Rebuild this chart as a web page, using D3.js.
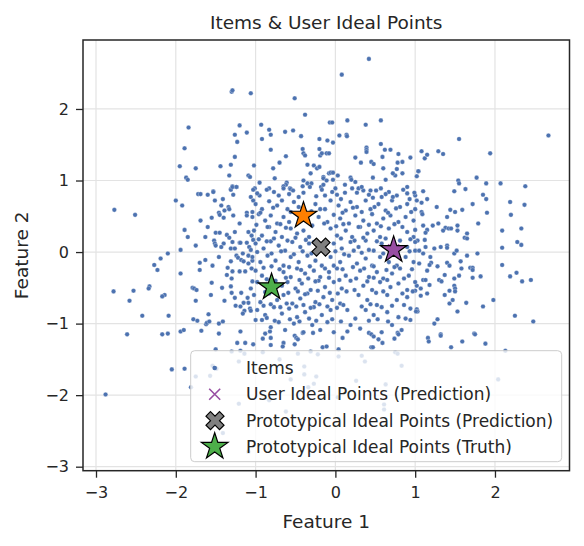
<!DOCTYPE html>
<html><head><meta charset="utf-8">
<script src="https://cdn.jsdelivr.net/npm/d3@7/dist/d3.min.js"></script>
<style>body{margin:0;background:#fff}svg{display:block}text{font-family:"DejaVu Sans",sans-serif;fill:#262626}</style>
</head><body><div id="chart"></div>
<script>
const title = "Items & User Ideal Points";
const xLabel = "Feature 1";
const yLabel = "Feature 2";
const xTicks = [-3, -2, -1, 0, 1, 2];
const yTicks = [-3, -2, -1, 0, 1, 2];
const legendLabels = ["Items", "User Ideal Points (Prediction)", "Prototypical Ideal Points (Prediction)", "Prototypical Ideal Points (Truth)"];
// items: [feature1, feature2]
const itemsTop = [
[-1.30,2.24],[-1.29,2.26],[-1.06,2.22],[-1.84,1.74],[-1.20,1.77],[-1.26,1.64],[-1.11,1.67],[-1.23,1.54],[-1.89,1.45],[-1.26,1.33],
[-1.95,1.20],[-1.75,1.17],[-1.44,1.20],[-1.31,1.22],[-1.02,1.21],[-1.33,1.07],[-1.09,1.07],[-1.07,1.05],[-1.87,1.04],[-1.85,1.01],
[-1.29,0.92],[-1.24,0.91],[-1.31,0.88],[-1.53,0.85],
[0.42,2.70],[0.08,2.48],[-0.51,2.15],[-0.38,1.92],[-0.93,1.78],[-0.83,1.71],[-0.81,1.64],[-0.92,1.58],[-0.63,1.68],[-0.53,1.70],
[-0.43,1.62],[-0.07,1.81],[-0.04,1.81],[0.15,1.84],[0.38,1.78],[0.57,1.84],[-0.20,1.58],[-0.10,1.56],[-0.03,1.53],[0.05,1.63],
[0.14,1.64],[0.145,1.62],[-0.81,1.43],[-0.62,1.34],[-0.41,1.44],[-0.40,1.38],[-0.38,1.35],[-0.20,1.44],[-0.19,1.35],[-0.17,1.38],
[-0.11,1.38],[-0.08,1.38],[0.57,1.51],[0.39,1.46],[0.39,1.43],[0.39,1.40],[0.62,1.43],[0.69,1.43],[0.79,1.37],[0.94,1.32],
[0.25,1.32],[0.32,1.25],[0.45,1.26],[0.48,1.23],[0.59,1.33],[0.60,1.17],[0.78,1.25],[0.84,1.26],[0.77,1.16],[0.75,1.07],
[0.72,1.10],[0.84,1.10],[0.63,1.01],[0.47,1.04],[-0.70,1.25],[-0.78,1.17],[-0.35,1.22],[-0.27,1.21],[-0.23,1.17],[-0.31,1.10],
[-0.20,1.19],[-0.08,1.10],[-0.06,1.11],[-0.03,1.11],[0.03,1.07],[-0.15,1.05],[-0.15,1.03],[-0.11,1.00],[-0.03,1.01],[-0.40,1.00],
[-0.76,1.03],[-0.95,0.97],[-0.61,0.97],[-0.62,0.94],[-0.65,0.92],[-0.35,0.96],[-0.30,0.96],[0.19,1.04],[0.20,1.01],[0.25,0.98],
[0.12,0.94],[0.29,0.89],[0.57,0.89],[0.90,0.91],[1.02,1.06],[1.04,1.13],[-1.01,0.89],[-0.83,0.89],[-0.57,0.89],[-0.56,0.88],
[-0.41,0.92],[-0.18,0.91],[-0.15,0.94],[0.00,0.89],[0.44,0.86],[0.35,0.86],
[2.67,1.63],[1.55,1.58],[1.08,1.41],[1.12,1.31],[1.15,1.36],[1.29,1.41],[1.35,1.37],[1.94,1.38],[1.04,1.13],[1.54,1.00],
[1.55,0.96],[1.77,1.04],[1.89,0.96],[2.07,0.96],[2.38,0.92],[1.63,0.88],[1.49,0.85],[1.10,0.85]
];
const itemsRight = [
[1.85,0.80],[1.89,0.74],[1.72,0.67],[1.00,0.79],[1.02,0.72],[1.08,0.69],[1.15,0.74],[1.27,0.63],[1.44,0.59],[1.50,0.56],
[1.59,0.59],[1.90,0.55],[2.19,0.70],[2.37,0.66],[2.20,0.52],[1.08,0.56],[1.09,0.53],[1.40,0.49],[1.29,0.40],[1.22,0.37],
[1.10,0.37],[1.00,0.31],[1.15,0.31],[1.13,0.27],[1.38,0.34],[1.42,0.33],[1.45,0.33],[1.35,0.30],[1.53,0.37],[1.53,0.30],
[1.79,0.40],[1.65,0.26],[1.62,0.20],[1.65,0.19],[2.09,0.30],[2.33,0.33],[2.28,0.14],[2.33,0.10],[2.09,0.06],[1.03,0.16],
[1.12,0.17],[1.13,0.07],[1.24,0.05],[1.32,0.07],[1.40,0.09],[1.40,0.06],[1.00,0.02],[1.05,0.02],[1.10,-0.02],[1.19,-0.07],
[1.49,-0.02],[1.52,0.02],[1.65,-0.05],[1.78,-0.02],[1.57,-0.13],[1.40,-0.15],[1.43,-0.19],[1.05,-0.16],[1.20,-0.15],[1.18,-0.18],
[1.28,-0.20],[1.58,-0.23],[1.69,-0.22],[1.72,-0.22],[1.72,-0.25],[2.09,-0.18],[1.15,-0.26],[1.37,-0.32],[1.55,-0.33],[1.72,-0.36],
[1.82,-0.34],[1.49,-0.37],[2.19,-0.34],[2.27,-0.29],[2.34,-0.41],[2.45,-0.39],[1.10,-0.39],[1.13,-0.39],[1.30,-0.39],[1.33,-0.41],
[1.18,-0.46],[1.02,-0.47],[1.07,-0.51],[1.00,-0.54],[1.49,-0.47],[1.50,-0.51],[1.50,-0.55],[1.43,-0.54],[1.37,-0.60],[1.15,-0.58],
[1.07,-0.61],[1.47,-0.67],[1.43,-0.72],[1.64,-0.71],[1.98,-0.67],[1.85,-0.76],[1.53,-0.83],[1.02,-0.80],[1.03,-0.83],[1.01,-0.83],
[2.25,-0.89],[2.48,-0.97],[1.28,-0.94],[1.24,-1.00],[1.32,-1.15],[1.74,-1.14]
];
const itemsLeft = [
[-2.77,0.59],[-2.51,0.52],[-2.00,0.72],[-1.92,0.65],[-1.72,0.81],[-1.69,0.81],[-1.60,0.80],[-1.53,0.84],[-1.51,0.72],[-1.41,0.74],
[-1.31,0.87],[-1.29,0.91],[-1.24,0.91],[-1.28,0.80],[-1.06,0.77],[-1.03,0.72],[-1.43,0.65],[-1.34,0.63],[-1.33,0.60],[-1.39,0.58],
[-1.46,0.55],[-1.45,0.52],[-1.55,0.48],[-1.40,0.48],[-1.28,0.51],[-1.11,0.55],[-1.11,0.51],[-1.04,0.56],[-1.69,0.44],[-1.20,0.40],
[-1.60,0.35],[-1.89,0.31],[-1.50,0.27],[-1.45,0.27],[-1.26,0.28],[-1.09,0.28],[-1.05,0.23],[-1.85,0.21],[-1.63,0.21],[-1.36,0.24],
[-1.33,0.20],[-1.52,0.16],[-1.51,0.12],[-1.50,0.09],[-1.40,0.12],[-1.43,0.07],[-1.29,0.14],[-1.20,0.13],[-1.19,0.13],[-1.11,0.13],
[-1.03,0.17],[-1.75,0.09],[-1.94,0.03],[-1.31,0.05],[-1.26,0.05],[-1.08,0.07],[-1.06,0.03],[-2.10,-0.02],[-2.19,-0.09],[-2.27,-0.18],
[-2.23,-0.25],[-1.46,-0.07],[-1.24,-0.05],[-1.22,-0.08],[-1.16,-0.02],[-1.09,-0.05],[-1.18,-0.11],[-1.15,-0.13],[-1.09,-0.16],[-1.04,-0.12],
[-1.63,-0.11],[-1.70,-0.15],[-1.54,-0.19],[-1.31,-0.13],[-1.35,-0.22],[-1.70,-0.25],[-1.94,-0.30],[-1.29,-0.27],[-1.20,-0.27],[-1.13,-0.27],
[-1.05,-0.23],[-1.36,-0.32],[-1.30,-0.37],[-1.04,-0.41],[-1.55,-0.43],[-1.42,-0.50],[-1.31,-0.48],[-2.33,-0.48],[-2.34,-0.51],[-2.78,-0.55],
[-2.53,-0.54],[-1.79,-0.50],[-1.77,-0.51],[-1.74,-0.53],[-1.30,-0.57],[-1.18,-0.57],[-1.06,-0.51],[-1.56,-0.60],[-2.14,-0.60],[-2.17,-0.62],
[-2.58,-0.68],[-1.75,-0.68],[-1.39,-0.68],[-1.26,-0.64],[-1.10,-0.64],[-1.09,-0.71],[-1.15,-0.71],[-1.25,-0.75],[-1.19,-0.76],[-1.07,-0.79],
[-1.06,-0.82],[-1.14,-0.82],[-1.16,-0.86],[-2.42,-0.89],[-2.09,-0.89],[-1.59,-0.87],[-1.62,-1.01],[-1.61,-0.99],[-1.58,-0.97],[-1.78,-0.94],
[-1.73,-0.96],[-1.46,-1.00],[-1.41,-0.97],[-2.61,-1.15],[-2.17,-1.15],[-2.10,-1.14],[-1.94,-1.11],[-1.90,-1.09],[-1.68,-1.10],[-1.46,-1.14],
[-1.19,-1.11]
];
const itemsBottom = [
[-1.23,-1.27],[-1.13,-1.27],[-1.03,-1.29],[-1.50,-1.36],[-1.30,-1.39],[-1.19,-1.38],[-1.14,-1.42],[-2.05,-1.64],[-1.89,-1.63],[-1.49,-1.63],
[-1.54,-1.59],[-1.57,-1.73],[-1.75,-1.74],[-1.21,-1.53],[-1.81,-1.89],[-2.88,-1.99],[-1.21,-2.12],[-1.41,-2.53],[-1.09,-2.79],
[-0.88,-1.14],[-0.91,-1.21],[-0.82,-1.11],[-0.81,-1.20],[-0.81,-1.30],[-0.65,-1.27],[-0.66,-1.32],[-0.51,-1.17],[-0.49,-1.20],[-0.47,-1.22],
[-0.51,-1.29],[-0.41,-1.13],[-0.28,-1.13],[-0.16,-1.33],[-0.11,-1.32],[0.09,-1.20],[0.15,-1.11],[0.42,-1.13],[0.45,-1.15],[0.48,-1.18],
[0.54,-1.22],[0.59,-1.27],[0.45,-1.33],[0.47,-1.33],[0.74,-1.21],[0.78,-1.13],[0.79,-1.15],[0.04,-1.36],[1.16,-1.20],[1.17,-1.25],
[1.32,-1.17],[1.45,-1.33],[1.59,-1.25],[1.75,-1.15],[1.88,-1.28],[2.13,-1.38],
[-0.91,-1.40],[-0.70,-1.50],[-0.47,-1.42],[-0.31,-1.39],[-0.22,-1.43],[0.04,-1.46],[0.33,-1.45],[0.37,-1.53],[0.75,-1.40],[0.78,-1.42],
[0.83,-1.59],[-0.39,-1.60],[-0.39,-1.71],[-0.24,-1.74],[-0.56,-1.78],[-0.27,-1.84],[-0.34,-1.89],[0.26,-1.80],[0.63,-1.85],[2.04,-1.78],
[0.03,-2.03],[0.61,-2.13],[0.61,-2.20],[-0.62,-2.23],[-0.83,-2.07]
];
const itemsCenter = [
[-1.03,0.87],[-0.95,0.79],[-0.86,0.87],[-0.77,0.84],[-0.65,0.89],[-0.53,0.86],[-0.46,0.77],[-0.32,0.91],[-0.17,0.87],[-0.13,0.79],
[-0.04,0.84],[0.07,0.74],[0.21,0.89],[0.27,0.83],[0.33,0.91],[0.42,0.80],[0.51,0.86],[0.58,0.77],[0.67,0.84],[0.77,0.79],
[0.85,0.87],[0.93,0.74],[0.99,0.83],
[-1.00,0.67],[-0.92,0.60],[-0.83,0.71],[-0.73,0.65],[-0.67,0.72],[-0.60,0.60],[-0.52,0.70],[-0.25,0.67],[-0.19,0.60],[-0.06,0.72],
[0.04,0.65],[0.13,0.58],[0.19,0.70],[0.27,0.63],[0.38,0.72],[0.44,0.60],[0.54,0.67],[0.63,0.58],[0.71,0.72],[0.81,0.63],
[0.90,0.67],[1.00,0.60],
[-1.04,0.49],[-0.96,0.53],[-0.88,0.44],[-0.81,0.51],[-0.73,0.40],[-0.65,0.49],[-0.58,0.42],[-0.21,0.49],[-0.10,0.42],[-0.02,0.52],
[0.06,0.47],[0.17,0.40],[0.25,0.51],[0.35,0.44],[0.46,0.53],[0.52,0.40],[0.60,0.47],[0.69,0.51],[0.79,0.42],[0.88,0.49],[0.98,0.44],
[-1.02,0.30],[-0.92,0.23],[-0.83,0.35],[-0.75,0.28],[-0.67,0.21],[-0.56,0.33],[-0.48,0.26],[-0.40,0.30],[-0.33,0.21],[-0.06,0.33],
[0.02,0.23],[0.13,0.30],[0.21,0.21],[0.31,0.35],[0.40,0.26],[0.48,0.30],[0.56,0.21],[0.67,0.33],[0.90,0.28],[0.98,0.21],
[-1.00,0.12],[-0.90,0.05],[-0.81,0.15],[-0.71,0.09],[-0.63,0.02],[-0.54,0.14],[-0.44,0.07],[-0.33,0.12],[-0.02,0.12],[0.08,0.05],
[0.19,0.14],[0.29,0.07],[0.38,0.16],[0.48,0.02],[0.58,0.12],[0.90,0.07],[1.00,0.14],
[-1.04,-0.07],[-0.94,-0.14],[-0.85,-0.05],[-0.75,-0.12],[-0.65,-0.19],[-0.56,-0.07],[-0.46,-0.14],[-0.35,-0.05],[-0.25,-0.12],[-0.17,-0.19],
[-0.06,-0.07],[0.06,-0.14],[0.17,-0.05],[0.27,-0.16],[0.38,-0.09],[0.46,-0.19],[0.56,-0.07],[0.67,-0.14],[0.77,-0.19],[0.88,-0.07],[0.98,-0.14],
[-1.00,-0.26],[-0.65,-0.28],[-0.56,-0.35],[-0.48,-0.23],[-0.38,-0.30],[-0.27,-0.26],[-0.19,-0.35],[-0.08,-0.28],[0.02,-0.23],[0.13,-0.33],
[0.31,-0.26],[0.42,-0.35],[0.52,-0.28],[0.60,-0.37],[0.71,-0.30],[0.81,-0.23],[0.92,-0.33],
[-0.60,-0.42],[-0.50,-0.51],[-0.42,-0.44],[-0.31,-0.53],[-0.21,-0.40],[-0.13,-0.49],[-0.02,-0.42],[0.08,-0.51],[0.19,-0.40],[0.35,-0.47],
[0.46,-0.53],[0.56,-0.42],[0.69,-0.49],[0.79,-0.44],[0.90,-0.53],[1.00,-0.42],[-0.98,-0.42],[-0.92,-0.33],[-0.67,-0.47],
[-1.02,-0.60],[-0.94,-0.70],[-0.83,-0.58],[-0.73,-0.67],[-0.65,-0.60],[-0.54,-0.72],[-0.44,-0.65],[-0.35,-0.58],[-0.25,-0.70],[-0.15,-0.63],
[-0.04,-0.67],[0.06,-0.72],[0.15,-0.81],[0.29,-0.60],[0.40,-0.67],[0.52,-0.74],[0.65,-0.60],[0.77,-0.67],[0.90,-0.63],
[-0.98,-0.81],[-0.88,-0.88],[-0.77,-0.77],[-0.67,-0.86],[-0.58,-0.79],[-0.48,-0.91],[-0.38,-0.84],[-0.27,-0.77],[-0.17,-0.88],[-0.06,-0.81],
[0.38,-0.81],[0.48,-0.88],[0.65,-0.84],[0.79,-0.91],[0.94,-0.79],
[-0.92,-0.95],[-0.81,-1.05],[-0.71,-0.98],[-0.63,-1.09],[-0.52,-1.00],[-0.40,-1.12],[-0.29,-1.02],[-0.19,-1.09],[-0.10,-0.98],[-0.02,-1.12],
[0.19,-1.02],[0.31,-1.07],[0.58,-1.12],[0.71,-1.02],[0.83,-1.09],[0.94,-0.95]
];
const itemsCenterExtra = [
[-0.98,0.82],[-0.71,0.79],[-0.58,0.81],[-0.40,0.83],[-0.24,0.78],[0.02,0.80],[0.12,0.83],[0.47,0.76],[0.63,0.81],[0.72,0.77],[0.90,0.82],
[-0.94,0.55],[-0.78,0.62],[-0.56,0.56],[-0.46,0.63],[-0.30,0.57],[-0.13,0.60],[0.09,0.55],[0.22,0.62],[0.33,0.56],[0.49,0.63],[0.66,0.55],[0.76,0.61],[0.95,0.56],
[-0.99,0.38],[-0.85,0.35],[-0.69,0.39],[-0.62,0.34],[-0.29,0.37],[-0.14,0.40],[0.01,0.36],[0.10,0.39],[0.29,0.35],[0.42,0.38],[0.57,0.36],[0.74,0.39],[0.84,0.35],
[-0.96,0.18],[-0.86,0.15],[-0.77,0.19],[-0.60,0.16],[-0.50,0.20],[-0.37,0.17],[-0.27,0.14],[0.07,0.19],[0.24,0.16],[0.35,0.20],[0.52,0.15],[0.63,0.19],[0.81,0.16],[0.94,0.18],
[-0.98,0.00],[-0.80,-0.02],[-0.68,0.01],[-0.52,-0.03],[-0.41,0.01],[-0.30,-0.02],[0.00,0.01],[0.11,-0.03],[0.23,0.02],[0.33,-0.01],[0.42,0.03],[0.60,-0.02],[0.93,0.01],
[-0.90,-0.22],[-0.80,-0.20],[-0.70,-0.24],[-0.58,-0.21],[-0.43,-0.25],[-0.32,-0.20],[-0.13,-0.23],[-0.02,-0.19],[0.09,-0.24],[0.22,-0.21],[0.36,-0.23],[0.48,-0.20],[0.64,-0.25],[0.74,-0.21],[0.96,-0.24],
[-0.86,-0.38],[-0.75,-0.40],[-0.62,-0.36],[-0.45,-0.39],[-0.34,-0.37],[-0.25,-0.41],[-0.08,-0.36],[0.05,-0.39],[0.26,-0.37],[0.40,-0.41],[0.48,-0.36],[0.65,-0.39],[0.86,-0.37],
[-0.88,-0.56],[-0.77,-0.53],[-0.59,-0.57],[-0.47,-0.55],[-0.38,-0.59],[-0.22,-0.54],[-0.07,-0.57],[0.03,-0.58],[0.14,-0.55],[0.24,-0.53],[0.51,-0.57],[0.60,-0.55],[0.84,-0.58],[0.97,-0.55],
[-0.90,-0.75],[-0.81,-0.73],[-0.69,-0.77],[-0.61,-0.72],[-0.49,-0.76],[-0.40,-0.74],[-0.31,-0.78],[-0.20,-0.73],[-0.10,-0.76],[0.02,-0.78],[0.10,-0.74],[0.33,-0.76],[0.44,-0.73],[0.58,-0.77],[0.71,-0.75],[0.86,-0.74],
[-1.00,-0.95],[-0.86,-0.92],[-0.76,-0.96],[-0.57,-0.94],[-0.45,-0.97],[-0.33,-0.93],[-0.24,-0.96],[-0.04,-0.94],[0.07,-0.97],[0.25,-0.93],[0.42,-0.96],[0.53,-0.94],[0.66,-0.97],[0.88,-0.93]
];
const userX = [0.73];
const userY = [0.03];
const protoPredX = [-0.18];
const protoPredY = [0.07];
const truthX = [-0.40, 0.73, -0.80];
const truthY = [0.51, 0.03, -0.49];
const truthColors = ["#ff7f00", "#984ea3", "#4daf4a"];

const W = 584, H = 546;
const m = {l: 83, t: 40, r: 584 - 569.5, b: 546 - 470.7};
const svg = d3.select("#chart").append("svg").attr("width", W).attr("height", H);
const x = d3.scaleLinear().domain([-3.163, 2.934]).range([m.l, W - m.r]);
const y = d3.scaleLinear().domain([-3.056, 2.964]).range([H - m.b, m.t]);

// grid
const g = svg.append("g");
g.selectAll(".gx").data(xTicks).join("line").attr("x1", d => x(d)).attr("x2", d => x(d))
 .attr("y1", m.t).attr("y2", H - m.b).attr("stroke", "#e3e3e3").attr("stroke-width", 1.2);
g.selectAll(".gy").data(yTicks).join("line").attr("y1", d => y(d)).attr("y2", d => y(d))
 .attr("x1", m.l).attr("x2", W - m.r).attr("stroke", "#e3e3e3").attr("stroke-width", 1.2);

const fmt = d => d < 0 ? "\u2212" + Math.abs(d) : String(d);
const xa = svg.append("g").attr("transform", `translate(0,${H - m.b})`)
 .call(d3.axisBottom(x).tickValues(xTicks).tickFormat(fmt).tickSize(7).tickPadding(9));
const ya = svg.append("g").attr("transform", `translate(${m.l},0)`)
 .call(d3.axisLeft(y).tickValues(yTicks).tickFormat(fmt).tickSize(7).tickPadding(7));
[xa, ya].forEach(a => {
  a.select(".domain").remove();
  a.selectAll(".tick line").attr("stroke", "#262626").attr("stroke-width", 1.3);
  a.selectAll(".tick text").attr("font-size", 16).attr("fill", "#262626").attr("font-family", "DejaVu Sans");
});

// items
const items = itemsTop.concat(itemsRight, itemsLeft, itemsBottom, itemsCenter, itemsCenterExtra);
svg.append("g").selectAll("circle").data(items).join("circle")
 .attr("cx", d => x(d[0])).attr("cy", d => y(d[1])).attr("r", 2.3)
 .attr("fill", "#4c72b0").attr("stroke", "#ffffff").attr("stroke-width", 0.3);

// marker paths
function starPath(R) {
  const r = R * 0.381966; let p = "";
  for (let i = 0; i < 10; i++) {
    const a = -Math.PI / 2 + i * Math.PI / 5, rr = i % 2 ? r : R;
    p += (i ? "L" : "M") + (rr * Math.cos(a)).toFixed(2) + "," + (rr * Math.sin(a)).toFixed(2);
  }
  return p + "Z";
}
function xFilledPath(s) {
  const v = [[-0.25,-0.5],[0,-0.25],[0.25,-0.5],[0.5,-0.25],[0.25,0],[0.5,0.25],[0.25,0.5],[0,0.25],[-0.25,0.5],[-0.5,0.25],[-0.25,0],[-0.5,-0.25]];
  return "M" + v.map(p => (p[0]*s).toFixed(2) + "," + (p[1]*s).toFixed(2)).join("L") + "Z";
}
function xLinePath(s) { const h = s / 2; return `M${-h},${-h}L${h},${h}M${-h},${h}L${h},${-h}`; }

svg.append("g").selectAll("path").data(userX).join("path")
 .attr("transform", (d, i) => `translate(${x(d)},${y(userY[i])})`).attr("d", xLinePath(11))
 .attr("stroke", "#984ea3").attr("stroke-width", 1.6).attr("fill", "none");
svg.append("g").selectAll("path").data(protoPredX).join("path")
 .attr("transform", (d, i) => `translate(${x(d)},${y(protoPredY[i])})`).attr("d", xFilledPath(18))
 .attr("fill", "#808080").attr("stroke", "#000").attr("stroke-width", 1.2).attr("stroke-linejoin", "miter");
svg.append("g").selectAll("path").data(truthX).join("path")
 .attr("transform", (d, i) => `translate(${x(d)},${y(truthY[i])})`).attr("d", starPath(14))
 .attr("fill", (d, i) => truthColors[i]).attr("stroke", "#000").attr("stroke-width", 1.2);

// frame
svg.append("rect").attr("x", m.l).attr("y", m.t).attr("width", W - m.r - m.l).attr("height", H - m.b - m.t)
 .attr("fill", "none").attr("stroke", "#262626").attr("stroke-width", 1.5);

// title and labels
svg.append("text").attr("x", (m.l + W - m.r) / 2).attr("y", 29).attr("text-anchor", "middle").attr("font-size", 18.5).text(title);
svg.append("text").attr("x", (m.l + W - m.r) / 2).attr("y", 528).attr("text-anchor", "middle").attr("font-size", 18.5).text(xLabel);
svg.append("text").attr("transform", `translate(28,${(m.t + H - m.b) / 2}) rotate(-90)`).attr("text-anchor", "middle").attr("font-size", 18.5).text(yLabel);

// legend
const lg = svg.append("g");
lg.append("rect").attr("x", 190.7).attr("y", 350.7).attr("width", 371).attr("height", 111).attr("rx", 4)
 .attr("fill", "#ffffff").attr("fill-opacity", 0.8).attr("stroke", "#cccccc").attr("stroke-width", 1);
const rows = [368, 394.3, 420.7, 446.7];
lg.append("circle").attr("cx", 214.7).attr("cy", rows[0]).attr("r", 2.3).attr("fill", "#4c72b0");
lg.append("path").attr("transform", `translate(214.7,${rows[1]})`).attr("d", xLinePath(11)).attr("stroke", "#984ea3").attr("stroke-width", 1.6);
lg.append("path").attr("transform", `translate(215,${rows[2]})`).attr("d", xFilledPath(18)).attr("fill", "#808080").attr("stroke", "#000").attr("stroke-width", 1.2);
lg.append("path").attr("transform", `translate(214.7,${rows[3]})`).attr("d", starPath(14)).attr("fill", "#4daf4a").attr("stroke", "#000").attr("stroke-width", 1.2);
lg.selectAll("text").data(legendLabels).join("text").attr("x", 246).attr("y", (d, i) => rows[i] + 6)
 .attr("font-size", 17).text(d => d);
</script></body></html>
